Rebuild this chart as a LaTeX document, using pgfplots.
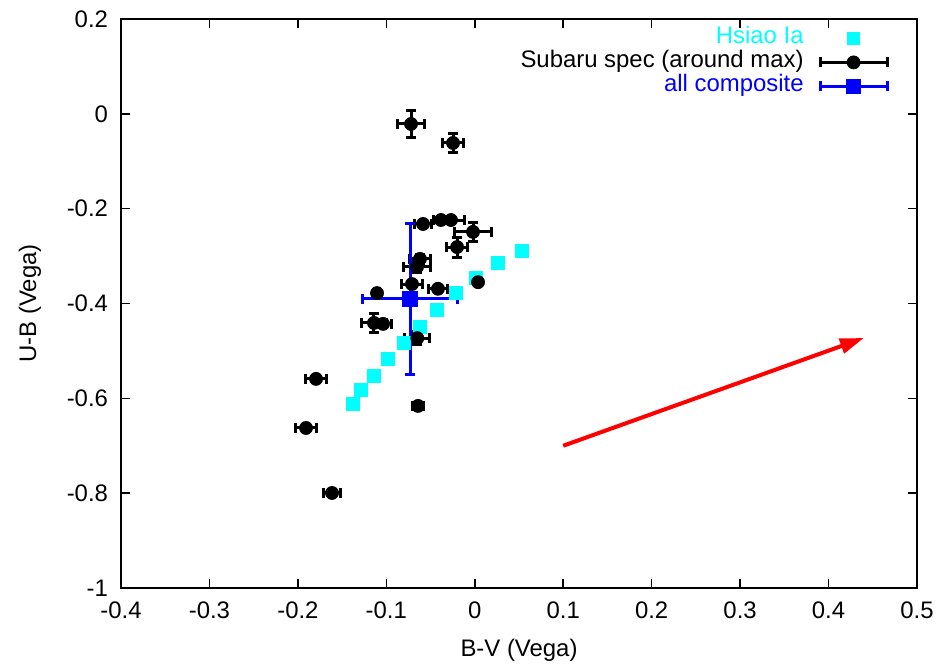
\documentclass[border=0pt]{standalone}
\usepackage{fontspec}
\setmainfont{Liberation Sans}
\usepackage{pgfplots}
\pgfplotsset{compat=1.18}
\usetikzlibrary{arrows.meta}
\definecolor{hsiaocyan}{HTML}{00FFFF}
\definecolor{compblue}{HTML}{0000FF}
\definecolor{vecred}{HTML}{FF0000}
\newcommand{\gpfont}{\fontsize{12}{14}\selectfont}

\begin{document}
\begin{tikzpicture}
\begin{axis}[
  name=ax,
  scale only axis,
  width=398bp, height=284.5bp,
  xmin=-0.4, xmax=0.5,
  ymin=-1, ymax=0.2,
  xtick={-0.4,-0.3,-0.2,-0.1,0,0.1,0.2,0.3,0.4,0.5},
  ytick={-1,-0.8,-0.6,-0.4,-0.2,0,0.2},
  tick align=inside,
  major tick length=4.5bp,
  axis line style={line width=0.75bp},
  tick style={line width=0.75bp, black},
  /pgf/number format/assume math mode=true,
  tick label style={font=\gpfont},
  xticklabel style={yshift=-3.5bp},
  yticklabel style={xshift=-3bp},
  label style={font=\gpfont},
  xlabel={B-V (Vega)},
  ylabel={U-B (Vega)},
  xlabel style={at={(axis description cs:0.5,-0.109)}, anchor=center},
  ylabel style={at={(axis description cs:-0.1143,0.5)}, anchor=center},
  every error bar/.append style={line width=1.5bp},
  legend plot pos=right,
  legend cell align=right,
  legend style={
    draw=none, fill=none, font=\gpfont,
    at={(1,1)}, anchor=north east, xshift=-14bp, yshift=-3.5bp,
    inner sep=0pt, row sep=0pt,
    nodes={inner sep=0pt, text height=8.8bp, text depth=3.2bp},
    /tikz/every odd column/.append style={column sep=7.5bp},
  },
]
% Hsiao Ia template colours
\addplot[only marks, mark=square*, mark size=3.25bp, color=hsiaocyan,
  legend image code/.code={
    \path[draw=none, fill=none] (0bp,-3.5bp) rectangle (33.5bp,3.5bp);
    \fill[hsiaocyan, draw=none] (13.5bp,-3.25bp) rectangle (20bp,3.25bp);
  }] coordinates {
  (0.0534,-0.289)
  (0.0263,-0.3146)
  (0.0014,-0.346)
  (-0.0212,-0.378)
  (-0.0427,-0.4137)
  (-0.062,-0.4495)
  (-0.080,-0.483)
  (-0.0981,-0.517)
  (-0.114,-0.553)
  (-0.1286,-0.582)
  (-0.1377,-0.612)
};
\addlegendentry{\textcolor{hsiaocyan}{Hsiao Ia}}

% Subaru spectra around maximum
\addplot[only marks, mark=*, mark size=3.25bp, color=black,
  legend image code/.code={
    \draw[black, line width=1.5bp] (0bp,0bp) -- (33.5bp,0bp)
      (0bp,-2.5bp) -- (0bp,2.5bp) (33.5bp,-2.5bp) -- (33.5bp,2.5bp);
    \fill[black] (16.75bp,0bp) circle (3.25bp);
  },
  error bars/.cd, x dir=both, x explicit, y dir=both, y explicit,
  error bar style={/tikz/line width=1.5bp, black},
  error mark options={rotate=90, mark size=2.5bp, /tikz/line width=1.5bp, black},
  ] coordinates {
  (-0.0721,-0.0214) +- (0.015,0.028)
  (-0.0246,-0.0615) +- (0.012,0.020)
  (-0.0585,-0.2323) +- (0.010,0.006)
  (-0.0382,-0.2239) +- (0.008,0.006)
  (-0.0269,-0.2240) +- (0.015,0.006)
  (-0.0020,-0.2490) +- (0.021,0.020)
  (-0.0200,-0.2810) +- (0.012,0.021)
  (-0.0620,-0.3060) +- (0.012,0.010)
  (-0.0653,-0.3230) +- (0.015,0.012)
  (-0.0710,-0.3590) +- (0.012,0.006)
  (-0.0416,-0.3690) +- (0.011,0.005)
  (0.0037,-0.3550) +- (0.004,0.004)
  (-0.1105,-0.3780) +- (0.004,0.004)
  (-0.1140,-0.4410) +- (0.014,0.020)
  (-0.1037,-0.4430) +- (0.010,0.006)
  (-0.0650,-0.4730) +- (0.014,0.014)
  (-0.1795,-0.5590) +- (0.012,0.005)
  (-0.0642,-0.6160) +- (0.006,0.004)
  (-0.1908,-0.6625) +- (0.012,0.006)
  (-0.1614,-0.7996) +- (0.010,0.004)
};
\addlegendentry{Subaru spec (around max)}

% composite of all spectra
\addplot[only marks, mark=square*, mark size=3.6bp, color=compblue,
  legend image code/.code={
    \draw[compblue, line width=1.5bp] (0bp,0bp) -- (33.5bp,0bp)
      (0bp,-2.5bp) -- (0bp,2.5bp) (33.5bp,-2.5bp) -- (33.5bp,2.5bp);
    \fill[compblue] (13.15bp,-3.6bp) rectangle (20.35bp,3.6bp);
  },
  error bars/.cd, x dir=both, x explicit, y dir=both, y explicit,
  error bar style={/tikz/line width=1.5bp, compblue},
  error mark options={rotate=90, mark size=2.5bp, /tikz/line width=1.5bp, compblue},
  ] coordinates {
  (-0.0732,-0.3905) +- (0.054,0.160)
};
\addlegendentry{\textcolor{compblue}{all composite}}

% reddening vector
\addplot[forget plot, vecred, line width=2bp, mark=none,
  -{Triangle[length=12bp, width=7.5bp]}] coordinates {
  (0.10,-0.70) (0.44,-0.4727)
};
\end{axis}
\pgfresetboundingbox
\path[use as bounding box] ([shift={(-60.5bp,-39bp)}]ax.south west)
  rectangle ([shift={(10bp,9.5bp)}]ax.north east);
\end{tikzpicture}
\end{document}
